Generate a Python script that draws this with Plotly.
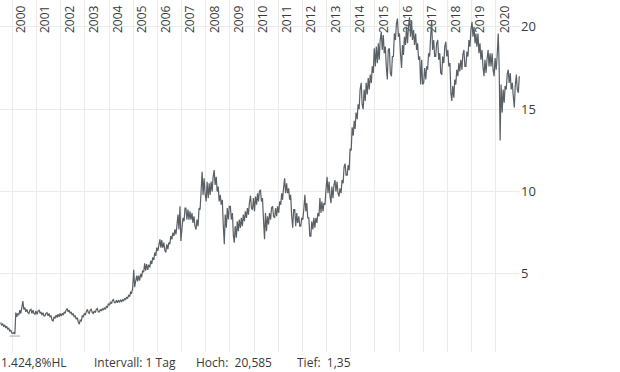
import plotly.graph_objects as go
import pandas as pd

start_month = "1999-07"

# monthly high / low (1999-07 .. 2020-12)
high = [
    2.05, 1.98, 1.90, 1.82, 1.70, 1.60,  # 1999 Jul-Dec
    1.45, 2.65, 2.60, 2.80, 3.00, 3.35, 2.95, 2.85, 2.80, 2.85, 2.80, 2.75,  # 2000
    2.75, 2.80, 2.70, 2.65, 2.60, 2.65, 2.60, 2.45, 2.40, 2.50, 2.55, 2.60,  # 2001
    2.60, 2.70, 2.80, 2.90, 2.80, 2.70, 2.60, 2.45, 2.35, 2.20, 2.45, 2.60,  # 2002
    2.70, 2.85, 2.80, 2.85, 2.75, 2.85, 2.90, 2.85, 2.90, 2.95, 3.05, 3.20,  # 2003
    3.30, 3.40, 3.45, 3.40, 3.40, 3.40, 3.45, 3.50, 3.60, 3.70, 3.90, 4.10,  # 2004
    5.25, 4.90, 4.90, 5.00, 5.20, 5.65, 5.60, 5.55, 5.80, 6.00, 6.30, 6.60,  # 2005
    6.90, 7.10, 7.05, 6.90, 6.80, 6.90, 7.30, 7.50, 7.70, 7.90, 8.60, 9.10,  # 2006
    8.40, 9.00, 9.00, 8.90, 8.80, 8.70, 8.50, 8.30, 9.00, 10.10, 11.20, 10.80,  # 2007
    10.60, 10.50, 10.60, 10.90, 11.30, 10.90, 10.30, 9.80, 9.50, 8.60, 9.00, 9.10,  # 2008
    9.10, 8.70, 7.90, 8.20, 8.30, 8.40, 8.60, 8.80, 9.00, 9.30, 9.75, 9.60,  # 2009
    9.70, 9.90, 10.00, 10.10, 9.60, 8.70, 8.50, 8.70, 9.00, 9.10, 9.00, 9.10,  # 2010
    9.40, 9.90, 10.20, 10.80, 10.50, 10.20, 9.80, 8.90, 8.90, 8.70, 8.50, 8.40,  # 2011
    8.90, 9.80, 9.30, 8.40, 8.20, 8.40, 8.40, 8.70, 9.60, 9.40, 9.30, 10.10,  # 2012
    10.90, 10.60, 10.30, 10.40, 10.70, 10.60, 10.20, 10.70, 11.50, 11.70, 11.60, 12.60,  # 2013
    13.90, 14.30, 14.80, 15.30, 16.20, 16.60, 16.20, 16.60, 16.90, 17.10, 17.60, 18.70,  # 2014
    18.80, 19.00, 19.20, 19.70, 19.50, 18.80, 18.60, 18.70, 18.20, 19.60, 20.20, 20.50,  # 2015
    19.60, 18.90, 19.40, 20.00, 20.00, 20.585, 20.40, 19.80, 19.60, 19.00, 18.20, 18.00,  # 2016
    17.50, 17.60, 18.40, 19.40, 20.40, 19.20, 19.00, 19.20, 18.40, 18.20, 18.80, 19.10,  # 2017
    18.60, 17.80, 16.40, 16.80, 17.40, 17.80, 18.00, 18.30, 18.60, 18.50, 19.20, 19.80,  # 2018
    20.30, 20.00, 19.60, 19.60, 19.00, 18.60, 18.00, 18.00, 18.60, 18.40, 18.40, 18.10,  # 2019
    18.20, 19.60, 16.50, 16.20, 16.40, 17.10, 17.40, 17.20, 16.60, 16.40, 17.10, 17.00,  # 2020
]
low = [
    1.88, 1.82, 1.72, 1.65, 1.52, 1.42,  # 1999 Jul-Dec
    1.38, 1.35, 2.40, 2.50, 2.60, 2.85, 2.70, 2.65, 2.60, 2.60, 2.60, 2.55,  # 2000
    2.55, 2.60, 2.50, 2.45, 2.45, 2.45, 2.40, 2.20, 2.15, 2.30, 2.35, 2.40,  # 2001
    2.45, 2.50, 2.60, 2.70, 2.60, 2.50, 2.40, 2.25, 2.10, 1.95, 2.15, 2.40,  # 2002
    2.50, 2.65, 2.60, 2.65, 2.60, 2.65, 2.70, 2.70, 2.75, 2.80, 2.85, 2.95,  # 2003
    3.10, 3.20, 3.25, 3.25, 3.25, 3.30, 3.30, 3.35, 3.45, 3.50, 3.65, 3.85,  # 2004
    4.20, 4.50, 4.55, 4.60, 4.80, 5.10, 5.20, 5.25, 5.40, 5.60, 5.85, 6.10,  # 2005
    6.40, 6.60, 6.60, 6.45, 6.30, 6.50, 6.80, 7.10, 7.30, 7.40, 7.70, 7.00,  # 2006
    7.60, 8.20, 8.30, 8.30, 8.30, 8.10, 7.90, 7.70, 7.90, 8.90, 9.80, 9.90,  # 2007
    9.40, 9.60, 9.80, 10.00, 10.40, 10.00, 9.40, 9.20, 8.00, 6.80, 7.80, 8.30,  # 2008
    8.30, 7.30, 6.90, 7.20, 7.60, 7.80, 7.90, 8.20, 8.40, 8.60, 9.00, 8.90,  # 2009
    8.80, 9.20, 9.40, 9.40, 8.40, 7.10, 7.60, 8.00, 8.30, 8.50, 8.40, 8.50,  # 2010
    8.70, 9.20, 9.50, 9.90, 9.90, 9.50, 8.60, 7.80, 7.90, 8.10, 7.90, 7.90,  # 2011
    8.30, 8.80, 8.40, 7.30, 7.30, 7.70, 7.80, 8.10, 8.50, 8.70, 8.80, 9.20,  # 2012
    9.90, 9.70, 9.30, 9.60, 10.00, 9.90, 9.70, 9.90, 10.50, 11.00, 11.00, 11.30,  # 2013
    12.50, 13.40, 13.80, 14.40, 15.00, 15.30, 15.00, 15.50, 15.90, 16.20, 16.60, 17.20,  # 2014
    17.60, 17.80, 18.00, 18.60, 18.40, 17.60, 16.80, 17.20, 17.00, 18.20, 19.20, 19.40,  # 2015
    18.40, 17.50, 18.30, 18.90, 19.00, 19.40, 19.20, 18.90, 18.60, 18.00, 16.50, 16.50,  # 2016
    16.60, 16.80, 17.40, 18.20, 18.60, 18.20, 18.20, 18.00, 17.20, 17.10, 17.80, 18.20,  # 2017
    17.60, 16.00, 15.50, 15.70, 16.50, 17.00, 17.30, 17.40, 17.60, 17.60, 18.20, 18.80,  # 2018
    19.40, 19.00, 18.80, 18.40, 18.00, 17.60, 17.00, 17.20, 17.60, 17.60, 17.40, 17.00,  # 2019
    17.40, 17.60, 13.10, 14.80, 15.40, 16.20, 16.60, 16.20, 15.80, 15.10, 16.20, 16.00,  # 2020
]

year_labels = [str(y) for y in range(2000, 2021)]
y_ticks = [5, 10, 15, 20]

LINE = "#596066"
GRID = "#ebebeb"
TXT = "#3a3a3a"
FONT = "Open Sans"

months = pd.date_range(start=start_month, periods=len(high), freq="MS")
xs, ys = [], []
for i, m in enumerate(months):
    mid = (high[i] + low[i]) / 2
    nxt = (high[i + 1] + low[i + 1]) / 2 if i + 1 < len(high) else mid
    a, b = (low[i], high[i]) if nxt >= mid else (high[i], low[i])
    xs += [m + pd.Timedelta(days=7), m + pd.Timedelta(days=21)]
    ys += [a, b]

hoch = max(high)
tief = min(low)
tief_date = months[low.index(tief)] + pd.Timedelta(days=7)
hl = (hoch - tief) / tief * 100

def de(v, d):
    s = f"{v:,.{d}f}"
    return s.replace(",", "X").replace(".", ",").replace("X", ".")

fig = go.Figure()
fig.add_trace(go.Scatter(x=xs, y=ys, mode="lines",
                         line=dict(color=LINE, width=1.2), hoverinfo="skip",
                         showlegend=False))

fig.add_shape(type="line", xref="x", yref="y", ysizemode="pixel", yanchor=tief,
              x0=tief_date - pd.Timedelta(days=80), x1=tief_date + pd.Timedelta(days=80),
              y0=-2, y1=-2, line=dict(color="#a8a8a8", width=1))

tickvals = [f"{y}-01-01" for y in range(2000, 2022)]
ticktext = year_labels + [""]

fig.update_layout(
    width=620, height=372,
    margin=dict(l=0, r=100, t=0, b=20, autoexpand=False),
    paper_bgcolor="white", plot_bgcolor="white",
    font=dict(family=FONT, color=TXT, size=12),
    xaxis=dict(
        type="date", range=["1999-06-28", "2021-01-02"],
        side="top", anchor="free", position=(352 - 33) / 352,
        tickvals=tickvals, ticktext=ticktext,
        tickangle=-90, ticks="",
        ticklabelshift=9, ticklabelstandoff=0, automargin=False,
        showgrid=True, gridcolor=GRID, gridwidth=1,
        zeroline=False, showline=False, layer="below traces",
        tickfont=dict(size=12, color=TXT),
    ),
    yaxis=dict(
        side="right", range=[0.26, 21.63], tickvals=y_ticks,
        ticktext=[str(v) for v in y_ticks], ticks="", automargin=False,
        showgrid=True, gridcolor=GRID, gridwidth=1, zeroline=False,
        showline=False, tickfont=dict(size=13, color=TXT),
    ),
)

foot = [
    (-1, f"{de(hl, 1)}%HL"),
    (92, "Intervall: 1 Tag"),
    (194, f"Hoch:\u00a0 {de(hoch, 3)}"),
    (295, f"Tief:\u00a0 {de(tief, 2)}"),
]
for px, t in foot:
    fig.add_annotation(xref="paper", yref="paper", x=px / 520, y=-10 / 352,
                       xanchor="left", yanchor="middle", text=t, showarrow=False,
                       font=dict(size=12, color=TXT, family=FONT))

fig.write_html("out.html", config={"displayModeBar": False},
               post_script="document.body.style.margin='0';")
